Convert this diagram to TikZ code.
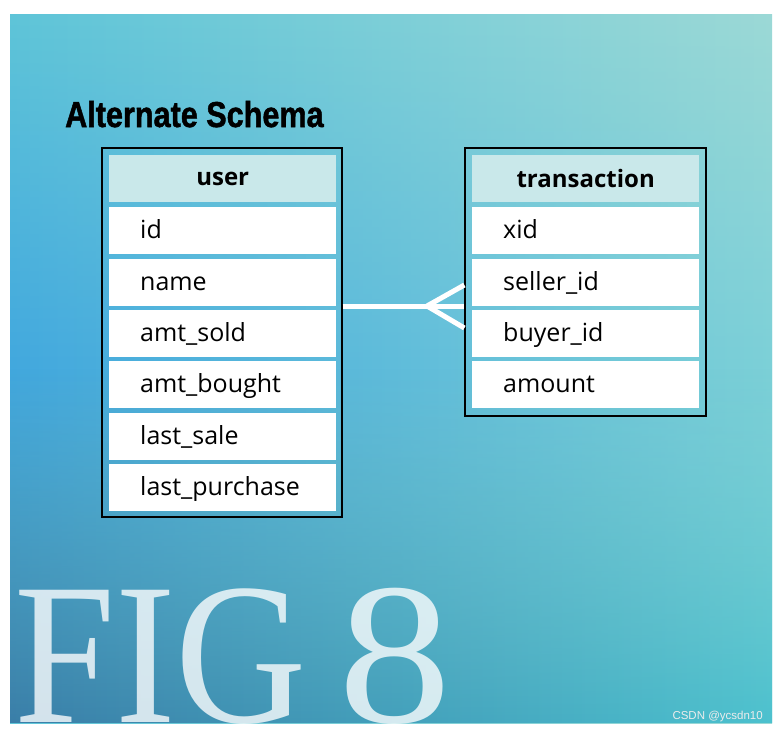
\documentclass[tikz,border=0pt]{standalone}
\usepackage{fontspec}
\usepackage{graphicx}
\setmainfont{Open Sans}
\newfontfamily\titlefont[BoldFeatures={FakeBold=1.5}]{Liberation Sans}
\newfontfamily\figfont{Liberation Serif}
\newfontfamily\markfont{Liberation Sans}
\usetikzlibrary{fadings}
\definecolor{Tl}{HTML}{5FC5D8}
\definecolor{Tm}{HTML}{7CD1E8}
\definecolor{Tr}{HTML}{9CD9D6}
\definecolor{Ml}{HTML}{42A8DE}
\definecolor{Mm}{HTML}{5ECBEA}
\definecolor{Mr}{HTML}{7CD0D8}
\definecolor{Bl}{HTML}{3A7EA8}
\definecolor{Bm}{HTML}{3EBFEA}
\definecolor{Br}{HTML}{4CC1CE}
\definecolor{headfill}{HTML}{C9E8EA}
\tikzfading[name=midfade, top color=transparent!100, bottom color=transparent!100, middle color=transparent!0]
\tikzfading[name=botfade, top color=transparent!100, bottom color=transparent!0]
\tikzset{
  frame/.style={draw=black, line width=1.3pt, inner sep=0pt, fill=none},
  headcell/.style={fill=headfill, inner sep=0pt, minimum width=227pt, minimum height=47pt, anchor=north west, font=\fontsize{24}{28}\selectfont\bfseries},
  rowcell/.style={fill=white, inner sep=0pt, minimum width=227pt, minimum height=47pt, anchor=north west},
  fieldtxt/.style={anchor=base west, inner sep=0pt, font=\fontsize{25}{30}\selectfont, text=black},
  link/.style={draw=white, line width=5pt}
}
\begin{document}
\begin{tikzpicture}[x=1pt,y=-1pt]
\useasboundingbox (0,0) rectangle (779,731);
% background
\shade[left color=Tl, middle color=Tm, right color=Tr] (10,14) rectangle (772,723);
\shade[left color=Ml, middle color=Mm, right color=Mr, path fading=midfade] (10,14) rectangle (772,723);
\shade[left color=Bl, middle color=Bm, right color=Br, path fading=botfade] (10,368) rectangle (772,723);
% big FIG 8
\begin{scope}
\clip (10,14) rectangle (772,723);
\node[anchor=base west, inner sep=0pt, text=white, text opacity=0.78, font=\figfont\fontsize{202}{202}\selectfont, xscale=0.9, transform shape] (figword) at (14,722) {FIG};
\node[anchor=base west, inner sep=0pt, text=white, text opacity=0.78, font=\figfont\fontsize{202}{202}\selectfont, xscale=1.12, transform shape] (fignum) at (338,722) {8};
\end{scope}
% title
\node[anchor=base west, inner sep=0pt, font=\titlefont\bfseries\fontsize{36}{40}\selectfont, text=black] (title) at (65,127) {\scalebox{0.85}[1]{Alternate Schema}};
% user table
\node[frame, minimum width=240pt, minimum height=369pt] (usertab) at (222,332.5) {};
\node[headcell] (uh) at (109,155) {user};
\foreach \i/\t in {0/id,1/name,2/amt\_sold,3/amt\_bought,4/last\_sale,5/last\_purchase}{
  \node[rowcell] (u\i) at (109,{207+51.4*\i}) {};
  \node[fieldtxt] (ut\i) at ([xshift=31pt,yshift=-8pt]u\i.west) {\t};
}
% transaction table
\node[frame, minimum width=241pt, minimum height=268pt] (transtab) at (585.5,282) {};
\node[headcell] (th) at (472,155) {transaction};
\foreach \i/\t in {0/xid,1/seller\_id,2/buyer\_id,3/amount}{
  \node[rowcell] (t\i) at (472,{207+51.4*\i}) {};
  \node[fieldtxt] (tt\i) at ([xshift=31pt,yshift=-8pt]t\i.west) {\t};
}
% connector with crow's foot
\coordinate (ustart) at (usertab.east |- 0,306);
\coordinate (tmid) at (transtab.west |- 0,306);
\coordinate (tup) at (transtab.west |- 0,285);
\coordinate (tlow) at (transtab.west |- 0,328);
\coordinate (foot) at (427,306);
\draw[link] (ustart) -- (tmid);
\draw[link] (foot) -- (tup);
\draw[link] (foot) -- (tlow);
% watermark
\node[anchor=base east, inner sep=0pt, font=\markfont\fontsize{11.5}{13}\selectfont, text=white!85!gray] (mark) at (763,719) {CSDN @ycsdn10};
\end{tikzpicture}
\end{document}
